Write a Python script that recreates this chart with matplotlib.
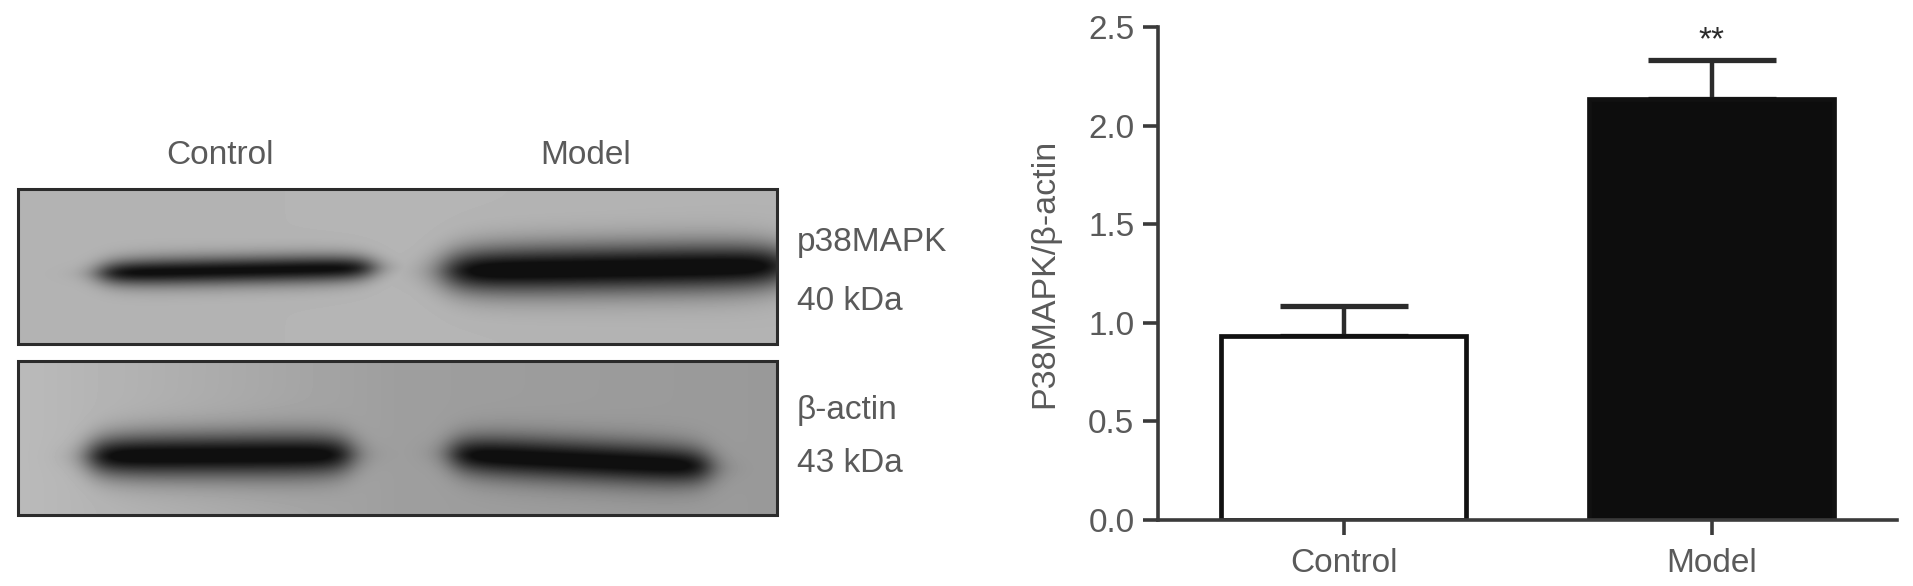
import numpy as np
import matplotlib
matplotlib.use("Agg")
import matplotlib.pyplot as plt

plt.rcParams['font.family'] = ['Liberation Sans', 'DejaVu Sans']

W, H = 1913, 586
TXT = '#5a5a5a'
DK = '#2b2b2b'

# Bar chart data
categories = ['Control', 'Model']
means = [0.934, 2.135]
upper = [1.083, 2.333]
bar_colors = ['white', '#0d0d0d']
yticks = [0.0, 0.5, 1.0, 1.5, 2.0, 2.5]
ylabel = 'P38MAPK/β-actin'

# Blot annotations
lane_labels = ['Control', 'Model']
protein_labels = [['p38MAPK', '40 kDa'], ['β-actin', '43 kDa']]

# Blot bands, one list per panel: x start, x end, y centre, half thickness, tilt, peak
bands_top = [(82, 390, 270, 14, -3, 0.92), (422, 812, 268, 24, -3, 1.0)]
bands_bottom = [(72, 368, 455, 22, -1, 0.98), (434, 726, 460, 21, 7, 0.98)]
panel_rows = [(189, 344), (361, 515)]
panel_cols = (18, 777)
# Background gray: left edge, middle, right edge of each membrane
panel_gray = [(0.70, 0.71, 0.70), (0.73, 0.62, 0.60)]


def blot(rows, bands, gray):
    y0, y1 = rows
    x0, x1 = panel_cols
    X, Y = np.meshgrid(np.arange(x0, x1), np.arange(y0, y1))
    u = (X - x0) / (x1 - x0)
    img = np.interp(u, [0, 0.5, 1], gray)
    dark = np.zeros_like(img)
    for a, b, yc, hw, tilt, peak in bands:
        s = (X - (a + b) / 2) / ((b - a) / 2)
        yy = yc + tilt * s
        thick = hw * np.sqrt(np.clip(1 - 0.5 * s**4, 0.35, 1))
        env = 1 / (1 + np.exp((np.abs(s) - 0.88) / 0.06))
        d = peak * np.exp(-(np.abs(Y - yy) / thick) ** 1.8) * env
        dark = np.maximum(dark, d)
    dark = np.clip(dark * 1.12, 0, 1)
    img = img * (1 - dark) + 0.06 * dark
    return img, (x0, x1, y1, y0)


fig = plt.figure(figsize=(W / 100, H / 100), dpi=100, facecolor='white')

# Left: pixel-coordinate layer for the blot
lay = fig.add_axes([0, 0, 1, 1])
lay.axis('off')
for rows, bands, gray in zip(panel_rows, [bands_top, bands_bottom], panel_gray):
    img, ext = blot(rows, bands, gray)
    lay.imshow(img, extent=ext, cmap='gray', vmin=0, vmax=1, aspect='auto', interpolation='bilinear')
    lay.add_patch(plt.Rectangle((ext[0], ext[3]), ext[1] - ext[0], ext[2] - ext[3],
                                fill=False, ec=DK, lw=2.2))
lay.set_xlim(0, W)
lay.set_ylim(H, 0)
for name, xp in zip(lane_labels, [220, 586]):
    lay.text(xp, 156, name, ha='center', va='center', fontsize=24, color=TXT)
for pair, ys_ in zip(protein_labels, [(242, 302), (410, 464)]):
    for t, yp in zip(pair, ys_):
        lay.text(797, yp, t, ha='left', va='center', fontsize=24, color=TXT)

# Right: bar chart
L, R, T, B = 1158, 1897, 27, 520
ax = fig.add_axes([L / W, 1 - B / H, (R - L) / W, (B - T) / H])
ax.patch.set_alpha(0)
ppu = 368.0
ax.set_xlim((L - 1343.6) / ppu, (R - 1343.6) / ppu)
ax.set_ylim(0, 2.5)
x = np.arange(len(categories))
ax.bar(x, means, width=0.665, color=bar_colors, edgecolor='#111111', linewidth=3.4, zorder=2)
for xi, m, u in zip(x, means, upper):
    ax.errorbar(xi, m, yerr=[[0], [u - m]], fmt='none', ecolor=DK, elinewidth=3.2,
                capsize=46, capthick=3.8, zorder=1)
ax.text(1, 2.43, '**', ha='center', va='center', fontsize=24, color=DK)
for s in ('top', 'right'):
    ax.spines[s].set_visible(False)
for s in ('left', 'bottom'):
    ax.spines[s].set_linewidth(2.6)
    ax.spines[s].set_color('#3a3a3a')
ax.set_xticks(x, categories)
ax.set_yticks(yticks, [f'{v:.1f}' for v in yticks])
ax.tick_params(axis='both', length=11, width=2.6, color='#3a3a3a', labelcolor=TXT, labelsize=24, pad=6)
ax.tick_params(axis='x', pad=9)
ax.set_ylabel(ylabel, fontsize=24.5, color=TXT, labelpad=20)
fig.savefig('out.png', dpi=100)
